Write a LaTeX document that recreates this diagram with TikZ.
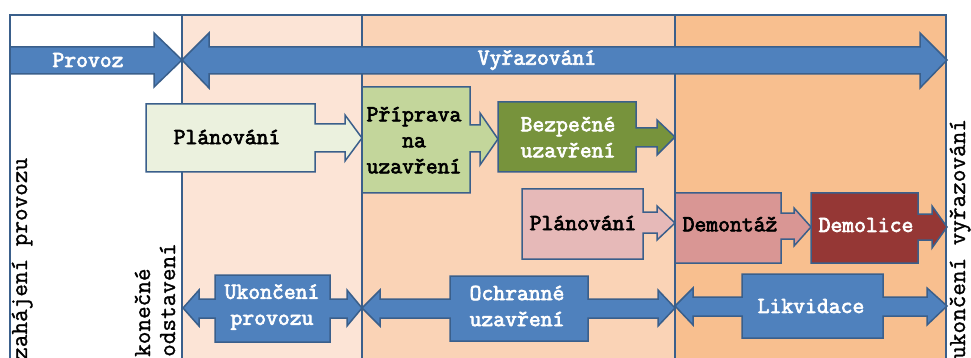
\documentclass[tikz,border=0pt]{standalone}
\usepackage{fontspec}
\newfontfamily\cbold{Latin Modern Mono}[FakeBold=3]
\newfontfamily\cmed{Latin Modern Mono}[FakeBold=1.2]
\definecolor{edge}{HTML}{3A5F8B}
\definecolor{bluef}{HTML}{4F81BD}
\definecolor{colA}{HTML}{FCE4D6}
\definecolor{colB}{HTML}{FAD3B6}
\definecolor{colC}{HTML}{F8BF8F}
\definecolor{planA}{HTML}{EBF1DE}
\definecolor{prep}{HTML}{C3D69B}
\definecolor{safe}{HTML}{77933C}
\definecolor{planB}{HTML}{E6B9B8}
\definecolor{dism}{HTML}{D99694}
\definecolor{demo}{HTML}{953735}
\begin{document}
\begin{tikzpicture}[x=1pt,y=-1pt,line join=miter,
  shp/.style={draw=edge,line width=1.5pt},
  sep/.style={draw=edge,line width=1.5pt},
  lbl/.style={font=\cbold\fontsize{23}{26}\selectfont,align=center,inner sep=0pt},
  blk/.style={lbl,text=black},
  wht/.style={lbl,text=white},
  vlbl/.style={font=\cmed\fontsize{24.5}{26}\selectfont,rotate=90,anchor=base west,inner sep=0pt}]
\useasboundingbox (0,0) rectangle (971,358);
\clip (0,0) rectangle (971,358);
\fill[white] (0,0) rectangle (971,358);
% columns
\fill[colA] (182,15) rectangle (362,380);
\fill[colB] (362,15) rectangle (675,380);
\fill[colC] (675,15) rectangle (946,380);
\draw[sep] (10,15) rectangle (946,380);
\draw[sep] (182,15) -- (182,380);
\draw[sep] (362,15) -- (362,380);
\draw[sep] (675,15) -- (675,380);
% top arrows
\draw[shp,fill=bluef] (10,47) -- (154,47) -- (154,33) -- (182,60) -- (154,87) -- (154,74) -- (10,74) -- cycle;
\draw[shp,fill=bluef] (182,60) -- (209,33) -- (209,47) -- (920,47) -- (920,33) -- (947,60) -- (920,88) -- (920,74) -- (209,74) -- (209,88) -- cycle;
\node[wht] (provoz) at (88,60) {Provoz};
\node[wht] (vyraz) at (537,60) {Vyřazování};
% row 2
\draw[shp,fill=planA] (146,104) -- (315,104) -- (315,124) -- (345,124) -- (345,115) -- (362,138) -- (345,161) -- (345,152) -- (315,152) -- (315,172) -- (146,172) -- cycle;
\draw[shp,fill=prep] (362,87) -- (470,87) -- (470,125) -- (480,125) -- (480,113) -- (498,139) -- (480,165) -- (480,152) -- (470,152) -- (470,193) -- (362,193) -- cycle;
\draw[shp,fill=safe] (498,102) -- (636,102) -- (636,128) -- (657,128) -- (657,120) -- (675,137) -- (657,155) -- (657,147) -- (636,147) -- (636,172) -- (498,172) -- cycle;
\node[blk] (plan1) at (227,137) {Plánování};
\node[blk] (prip) at (414,140) {Příprava\\na\\uzavření};
\node[wht] (bezp) at (568,137) {Bezpečné\\uzavření};
% row 3
\draw[shp,fill=planB] (522,189) -- (643,189) -- (643,212) -- (657,212) -- (657,206) -- (675,223) -- (657,240) -- (657,233) -- (643,233) -- (643,259) -- (522,259) -- cycle;
\draw[shp,fill=dism] (675,193) -- (781,193) -- (781,213) -- (794,213) -- (794,208) -- (811,227) -- (794,246) -- (794,239) -- (781,239) -- (781,263) -- (675,263) -- cycle;
\draw[shp,fill=demo] (811,193) -- (918,193) -- (918,214) -- (932,214) -- (932,206) -- (947,227) -- (932,248) -- (932,240) -- (918,240) -- (918,263) -- (811,263) -- cycle;
\node[blk] (plan2) at (583,223) {Plánování};
\node[blk] (demont) at (730,224) {Demontáž};
\node[wht] (demol) at (866,225) {Demolice};
% row 4
\draw[shp,fill=bluef] (183,308) -- (199,290) -- (199,299) -- (215,299) -- (215,275) -- (330,275) -- (330,299) -- (347,299) -- (347,290) -- (362,308) -- (347,326) -- (347,318) -- (330,318) -- (330,342) -- (215,342) -- (215,318) -- (199,318) -- (199,326) -- cycle;
\draw[shp,fill=bluef] (362,308) -- (380,290) -- (380,299) -- (450,299) -- (450,276) -- (588,276) -- (588,299) -- (658,299) -- (658,290) -- (675,308) -- (658,326) -- (658,318) -- (588,318) -- (588,341) -- (450,341) -- (450,318) -- (380,318) -- (380,326) -- cycle;
\draw[shp,fill=bluef] (675,306) -- (693,288) -- (693,297) -- (742,297) -- (742,274) -- (883,274) -- (883,297) -- (927,297) -- (927,288) -- (947,306) -- (927,325) -- (927,316) -- (883,316) -- (883,338) -- (742,338) -- (742,316) -- (693,316) -- (693,325) -- cycle;
\node[wht] (ukon) at (272,307) {Ukončení\\provozu};
\node[wht] (ochr) at (517,306) {Ochranné\\uzavření};
\node[wht] (likv) at (811,306) {Likvidace};
% vertical labels
\node[vlbl] (zah) at (27,360) {zahájení provozu};
\node[vlbl] (kon) at (150,357) {konečné};
\node[vlbl] (ods) at (175,357) {odstavení};
\node[vlbl] (ukv) at (965,359) {ukončení vyřazování};
\end{tikzpicture}
\end{document}
